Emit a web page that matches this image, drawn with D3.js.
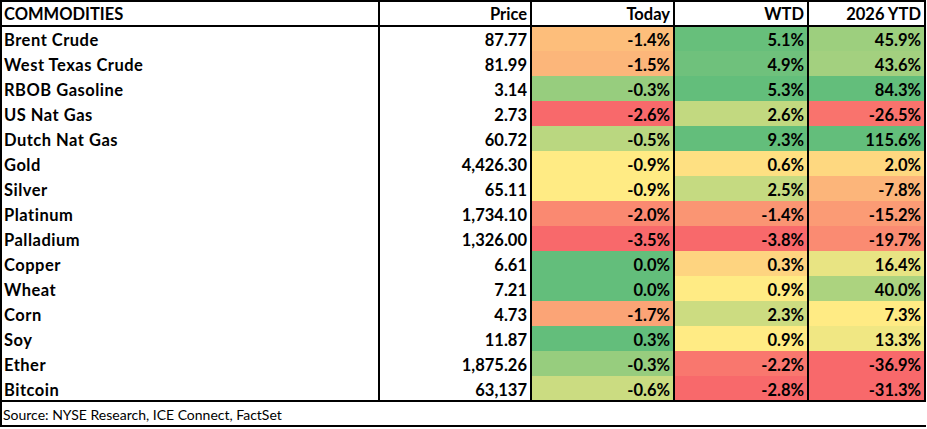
<!DOCTYPE html>
<html>
<head>
<meta charset="utf-8">
<script src="https://cdn.jsdelivr.net/npm/d3@7"></script>
<style>
  body { margin: 0; background: #fff; }
  svg text { font-family: Lato, Carlito, Calibri, sans-serif; fill: #000; }
  .cell { font-size: 16.5px; font-weight: 700; }
  .label { letter-spacing: 0.5px; }
</style>
</head>
<body>
<div id="table"></div>
<script>
const headers = ['COMMODITIES', 'Price', 'Today', 'WTD', '2026 YTD'];
const commodities = [
  'Brent Crude', 'West Texas Crude', 'RBOB Gasoline', 'US Nat Gas', 'Dutch Nat Gas',
  'Gold', 'Silver', 'Platinum', 'Palladium', 'Copper', 'Wheat', 'Corn', 'Soy',
  'Ether', 'Bitcoin',
];
const prices = [87.77, 81.99, 3.14, 2.73, 60.72, 4426.30, 65.11, 1734.10, 1326.00,
  6.61, 7.21, 4.73, 11.87, 1875.26, 63137];
const today = [-1.4, -1.5, -0.3, -2.6, -0.5, -0.9, -0.9, -2.0, -3.5, 0.0, 0.0, -1.7, 0.3, -0.3, -0.6];
const wtd = [5.1, 4.9, 5.3, 2.6, 9.3, 0.6, 2.5, -1.4, -3.8, 0.3, 0.9, 2.3, 0.9, -2.2, -2.8];
const ytd = [45.9, 43.6, 84.3, -26.5, 115.6, 2.0, -7.8, -15.2, -19.7, 16.4, 40.0, 7.3, 13.3, -36.9, -31.3];
const source = 'Source: NYSE Research, ICE Connect, FactSet';

const width = 927;
const height = 429;
const headerH = 26;
const tableBottom = 401;
const sourceBottom = 427;

// column edges (label | price | today | wtd | ytd)
const edges = [1, 379, 531, 674, 808, 925];

const locale = d3.formatLocale({ decimal: '.', thousands: ',', grouping: [3], currency: ['$', ''], minus: '-' });
const pct = locale.format('.1f');
const fmtPrice = v => (v >= 10000 ? locale.format(',.0f')(v) : locale.format(',.2f')(v));

const y = d3.scaleBand()
  .domain(commodities)
  .range([headerH, tableBottom]);

// red - yellow - green, clamped at the 10th / 90th percentile, yellow at the median
const columns = [today, wtd, ytd].map(values => ({
  values,
  color: d3.scaleLinear()
    .domain([d3.quantile(values, 0.1), d3.median(values), d3.quantile(values, 0.9)])
    .range(['#F8696B', '#FFEB84', '#63BE7B'])
    .interpolate(d3.interpolateRgb)
    .clamp(true),
}));

const svg = d3.select('#table')
  .append('svg')
  .attr('width', width)
  .attr('height', height);

// heat cells
columns.forEach((col, ci) => {
  const x0 = edges[ci + 2];
  const x1 = edges[ci + 3];
  svg.append('g')
    .selectAll('rect')
    .data(commodities)
    .enter()
    .append('rect')
    .attr('x', x0)
    .attr('y', d => y(d))
    .attr('width', x1 - x0)
    .attr('height', y.bandwidth() + 0.5)
    .attr('fill', (d, i) => col.color(col.values[i]));
});

// header
svg.append('g')
  .selectAll('text')
  .data(headers)
  .enter()
  .append('text')
  .attr('class', 'cell')
  .attr('x', (d, i) => (i === 0 ? 4 : edges[i + 1] - 4))
  .attr('y', 20)
  .attr('text-anchor', (d, i) => (i === 0 ? 'start' : 'end'))
  .text(d => d);

// row labels
svg.append('g')
  .selectAll('text')
  .data(commodities)
  .enter()
  .append('text')
  .attr('class', 'cell label')
  .attr('x', 4)
  .attr('y', d => y(d) + 19.5)
  .text(d => d);

// price
svg.append('g')
  .selectAll('text')
  .data(prices)
  .enter()
  .append('text')
  .attr('class', 'cell')
  .attr('x', edges[2] - 4)
  .attr('y', (d, i) => y(commodities[i]) + 19.5)
  .attr('text-anchor', 'end')
  .text(d => fmtPrice(d));

// percent columns
columns.forEach((col, ci) => {
  svg.append('g')
    .selectAll('text')
    .data(col.values)
    .enter()
    .append('text')
    .attr('class', 'cell')
    .attr('x', edges[ci + 3] - 4)
    .attr('y', (d, i) => y(commodities[i]) + 19.5)
    .attr('text-anchor', 'end')
    .text(d => `${pct(d)}%`);
});

// grid lines
const lines = svg.append('g')
  .attr('stroke', '#000')
  .attr('stroke-width', 2)
  .attr('fill', 'none');

lines.append('rect')
  .attr('x', 1)
  .attr('y', 1)
  .attr('width', edges[5] - 1)
  .attr('height', tableBottom - 1);

lines.append('line')
  .attr('x1', 1).attr('x2', edges[5])
  .attr('y1', headerH).attr('y2', headerH);

edges.slice(1, 5).forEach(ex => {
  lines.append('line')
    .attr('x1', ex).attr('x2', ex)
    .attr('y1', 1).attr('y2', tableBottom);
});

// source box: left and bottom only
lines.append('path')
  .attr('d', `M1,${tableBottom}V${sourceBottom - 1}H${edges[5] + 1}`);

svg.append('text')
  .attr('x', 3)
  .attr('y', 420)
  .style('font-size', '14px')
  .text(source);
</script>
</body>
</html>
